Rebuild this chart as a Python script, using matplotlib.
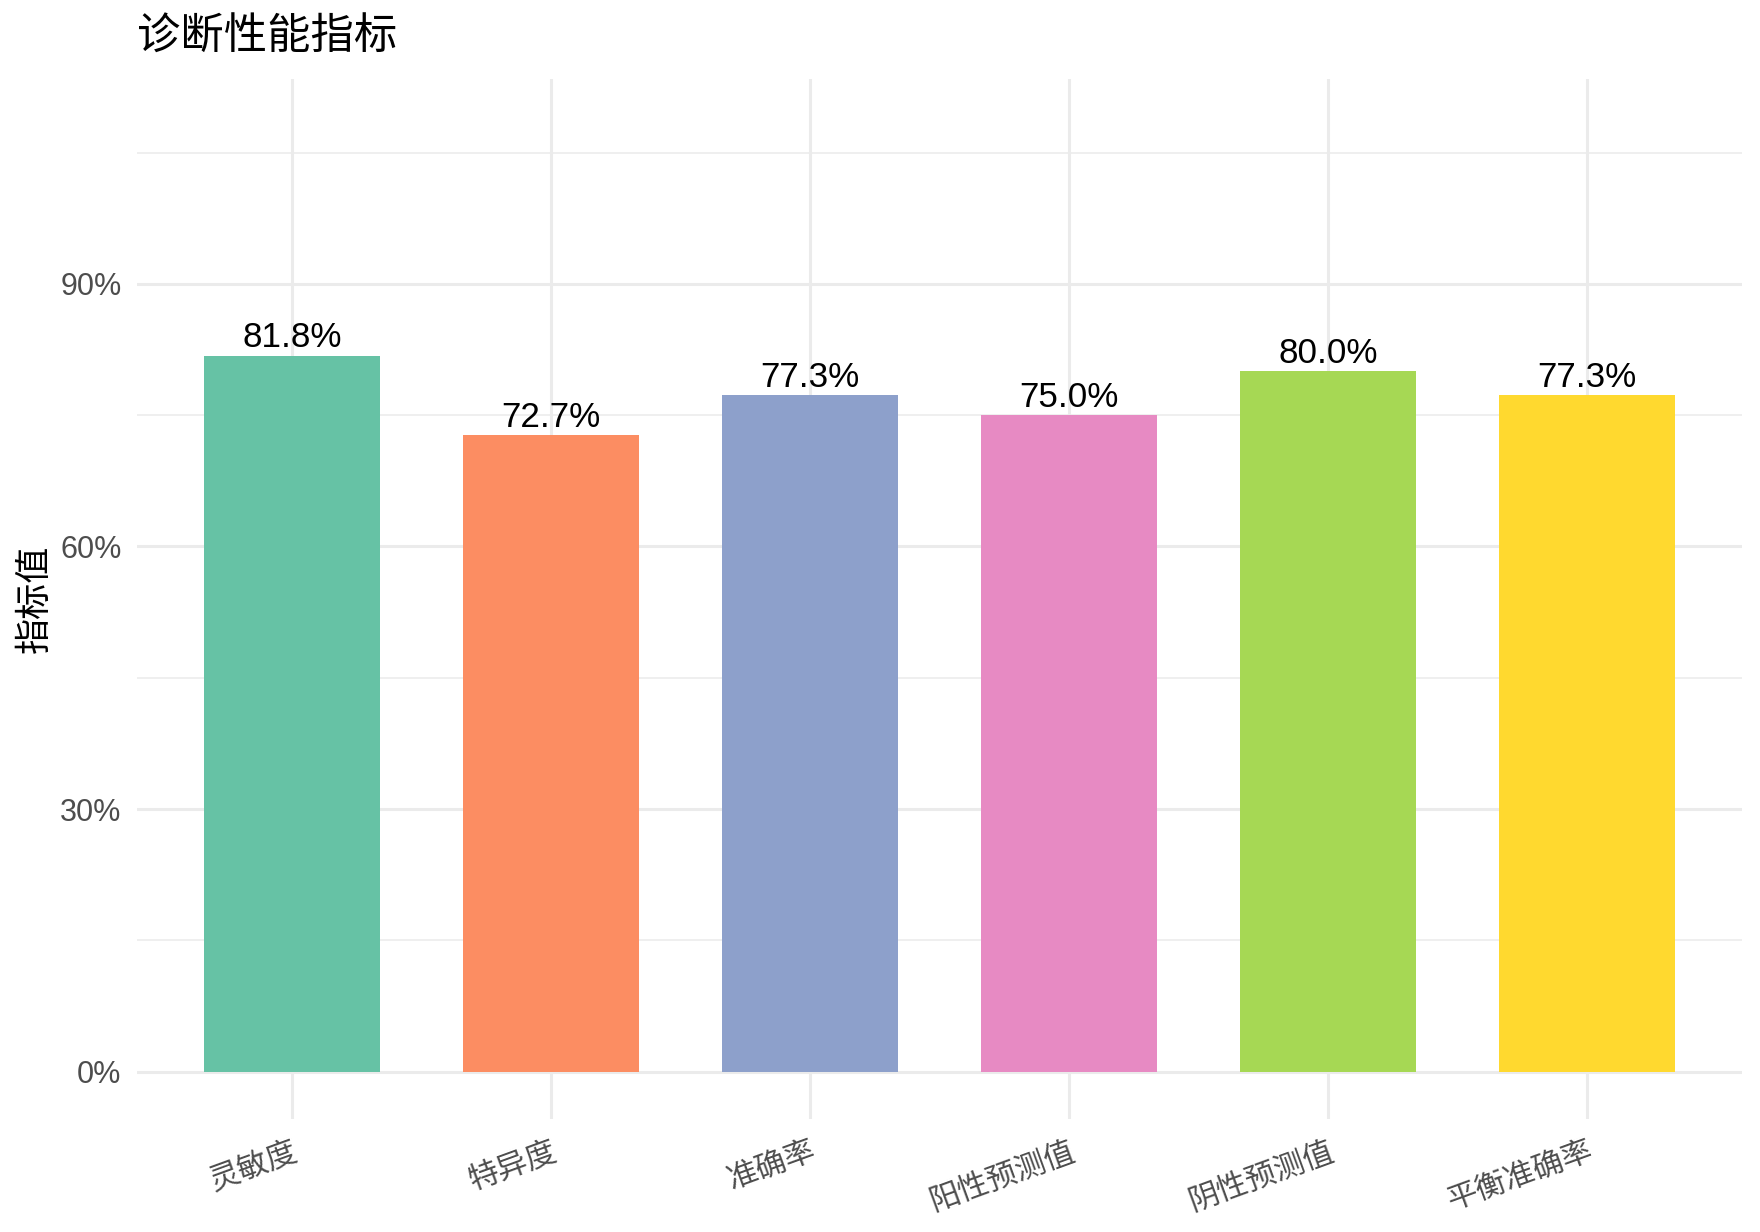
import matplotlib
matplotlib.use("Agg")
import matplotlib.pyplot as plt
import numpy as np

# ---- 数据 ----
categories = ["灵敏度", "特异度", "准确率", "阳性预测值", "阴性预测值", "平衡准确率"]
values = [0.818, 0.727, 0.773, 0.750, 0.800, 0.773]
bar_colors = ["#66C2A5", "#FC8D62", "#8DA0CB", "#E78AC3", "#A6D854", "#FFD92F"]
y_ticks = [0.0, 0.3, 0.6, 0.9]
y_tick_labels = ["0%", "30%", "60%", "90%"]
y_minor = [0.15, 0.45, 0.75, 1.05]

plt.rcParams['font.family'] = ['Liberation Sans', 'Noto Sans CJK SC', 'DejaVu Sans']

fig = plt.figure(figsize=(8.8, 6.16), dpi=200)
ax = fig.add_axes([137 / 1760, 1 - 1119 / 1232, (1742 - 137) / 1760, (1119 - 79) / 1232])

x = np.arange(len(categories))
grid_col = "#EBEBEB"

# 网格线 (ggplot theme_minimal 风格)
for yv in y_ticks:
    ax.axhline(yv, color=grid_col, lw=1.1, zorder=0)
for yv in y_minor:
    ax.axhline(yv, color=grid_col, lw=0.55, zorder=0)
for xv in x:
    ax.axvline(xv, color=grid_col, lw=1.1, zorder=0)

ax.bar(x, values, width=0.68, color=bar_colors, zorder=2)

for xi, v in zip(x, values):
    ax.annotate(f"{v * 100:.1f}%", (xi, v), xytext=(0, 0.5), textcoords="offset points",
                ha="center", va="bottom", fontsize=12.6, color="black", zorder=3)

ax.set_xlim(-0.6, len(categories) - 0.4)
ax.set_ylim(-0.054, 1.134)
ax.set_yticks(y_ticks)
ax.set_yticklabels(y_tick_labels)
ax.set_xticks(x)
ax.set_xticklabels(categories, rotation=20, ha="right", va="top", rotation_mode="anchor")

ax.tick_params(axis="both", length=0, colors="#4D4D4D", labelsize=11)
ax.tick_params(axis="x", pad=6.5)
ax.tick_params(axis="y", pad=5.6)
for s in ax.spines.values():
    s.set_visible(False)

ax.set_ylabel("指标值", fontsize=13, color="black", labelpad=2.5)
ax.set_title("诊断性能指标", loc="left", fontsize=15.6, color="black", pad=10.4)

fig.savefig("out.png", dpi=200, facecolor="white")
